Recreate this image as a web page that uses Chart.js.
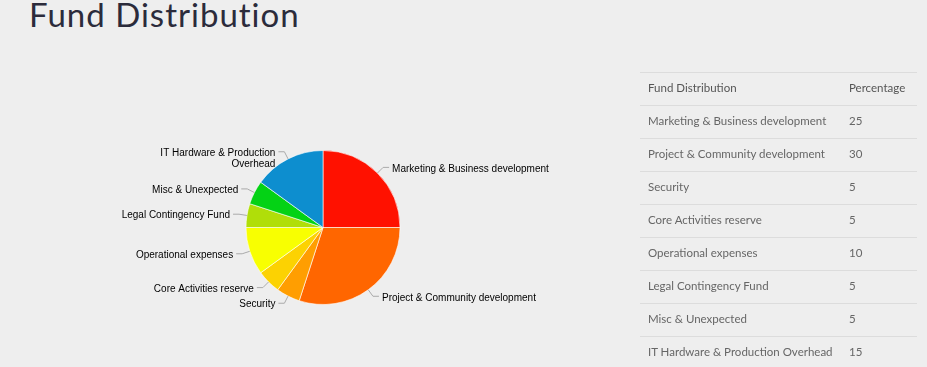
<!DOCTYPE html>
<html>
<head>
<meta charset="utf-8">
<script src="https://cdn.jsdelivr.net/npm/chart.js@4.4.1/dist/chart.umd.min.js"></script>
<style>
  html, body { margin: 0; padding: 0; background: #eeeeee; }
  body { width: 927px; height: 367px; position: relative; overflow: hidden; }
  h1 {
    position: absolute; left: 29px; top: -6px; margin: 0;
    font-family: Lato, sans-serif; font-weight: 400; font-size: 33px;
    letter-spacing: 1px; color: #2b2b3b;
  }
  #pieBox { position: absolute; left: 0; top: 130px; width: 646px; height: 195px; }
  table {
    position: absolute; left: 640px; top: 72px; width: 277px; table-layout: fixed;
    border-collapse: collapse; font-family: Lato, sans-serif; font-size: 11.5px; color: #666;
  }
  td { border-top: 1px solid #dcdcdc; height: 29px; padding: 0 0 3px 8px; vertical-align: middle; white-space: nowrap; }
  td:first-child { width: 193px; }
  tr.head td { color: #555; }
</style>
</head>
<body>
<h1>Fund Distribution</h1>
<div id="pieBox"><canvas id="pie"></canvas></div>
<table id="fundTable"></table>
<script>
const categories = [
  'Marketing & Business development',
  'Project & Community development',
  'Security',
  'Core Activities reserve',
  'Operational expenses',
  'Legal Contingency Fund',
  'Misc & Unexpected',
  'IT Hardware & Production Overhead'
];
const percentages = [25, 30, 5, 5, 10, 5, 5, 15];
const sliceColors = ['#ff1100', '#ff6600', '#ff9e01', '#fcd202', '#f8ff01', '#b0de09', '#04d215', '#0d8ecf'];

// table on the right
const table = document.getElementById('fundTable');
table.innerHTML = '<tr class="head"><td>Fund Distribution</td><td>Percentage</td></tr>' +
  categories.map((c, i) => `<tr><td>${c.replace('&', '&amp;')}</td><td>${percentages[i]}</td></tr>`).join('');

// wrap a label into lines no wider than maxW
const wrap = (ctx, text, maxW) => {
  const words = text.split(' ');
  const lines = [];
  let cur = '';
  words.forEach(w => {
    const test = cur ? cur + ' ' + w : w;
    if (cur && ctx.measureText(test).width > maxW) { lines.push(cur); cur = w; }
    else cur = test;
  });
  lines.push(cur);
  return lines;
};

const outsideLabels = {
  id: 'outsideLabels',
  afterDatasetsDraw(chart) {
    const ctx = chart.ctx;
    const meta = chart.getDatasetMeta(0);
    ctx.save();
    ctx.font = '10px "Liberation Sans", sans-serif';
    ctx.textBaseline = 'middle';
    meta.data.forEach((arc, i) => {
      const { x, y, startAngle, endAngle, outerRadius } = arc.getProps(['x', 'y', 'startAngle', 'endAngle', 'outerRadius'], true);
      const mid = (startAngle + endAngle) / 2;
      const cos = Math.cos(mid), sin = Math.sin(mid);
      const right = cos >= 0;
      const x0 = x + cos * outerRadius, y0 = y + sin * outerRadius;
      const x1 = x + cos * (outerRadius + 8), y1 = y + sin * (outerRadius + 8);
      const x2 = x1 + (right ? 6 : -6);
      ctx.strokeStyle = '#aaaaaa';
      ctx.lineWidth = 1;
      ctx.beginPath();
      ctx.moveTo(x0, y0);
      ctx.lineTo(x1, y1);
      ctx.lineTo(x2, y1);
      ctx.stroke();
      ctx.fillStyle = '#000';
      ctx.textAlign = right ? 'left' : 'right';
      const lines = right ? [categories[i]] : wrap(ctx, categories[i], 125);
      lines.forEach((l, k) => ctx.fillText(l, x2 + (right ? 3 : -3), y1 + 1.5 + k * 11));
    });
    ctx.restore();
  }
};

new Chart(document.getElementById('pie').getContext('2d'), {
  type: 'pie',
  data: {
    labels: categories,
    datasets: [{
      data: percentages,
      backgroundColor: sliceColors,
      borderColor: 'rgba(255,255,255,0.6)',
      borderWidth: 1
    }]
  },
  options: {
    responsive: true,
    maintainAspectRatio: false,
    animation: false,
    layout: { padding: 20 },
    plugins: { legend: { display: false }, tooltip: { enabled: false } }
  },
  plugins: [outsideLabels]
});
</script>
</body>
</html>
